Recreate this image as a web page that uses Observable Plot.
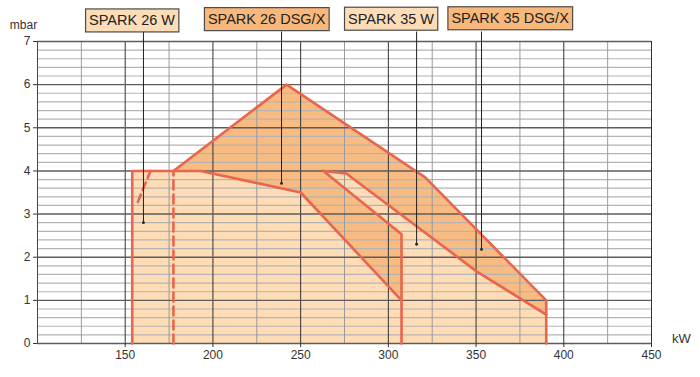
<!DOCTYPE html>
<html><head><meta charset="utf-8">
<script src="https://cdn.jsdelivr.net/npm/d3@7"></script>
<script src="https://cdn.jsdelivr.net/npm/@observablehq/plot@0.6"></script>
<style>body{margin:0;background:#fff;font-family:"Liberation Sans",Arial,sans-serif}</style>
</head><body><div id="chart"></div>
<script>
// ---- tick / grid data ----
const xMajor = [150, 200, 250, 300, 350, 400, 450];
const xMinor = [125, 175, 225, 275, 325, 375, 425];
const yMajor = [0, 1, 2, 3, 4, 5, 6, 7];
const yMinor = [0.2,0.4,0.6,0.8,1.2,1.4,1.6,1.8,2.2,2.4,2.6,2.8,3.2,3.4,3.6,3.8,4.2,4.4,4.6,4.8,5.2,5.4,5.6,5.8,6.2,6.4,6.6,6.8];

// ---- model labels ----
const models   = ["SPARK 26 W", "SPARK 26 DSG/X", "SPARK 35 W", "SPARK 35 DSG/X"];
const labelX   = [153.9, 230.6, 301.5, 369.4];
const labelY   = [7.48, 7.51, 7.52, 7.53];
const leaderX  = [160.4, 239.1, 316.1, 353.1];
const leaderY  = [2.8, 3.71, 2.3, 2.18];
const boxDark  = [false, true, false, true];

// ---- working fields (kW, mbar) ----
const area35DSG = [[177.5,0],[177.5,4],[242,6],[321,3.85],[390,1],[390,0]];
const area35W   = [[177.5,0],[177.5,4],[263,4],[276,3.94],[350.7,1.66],[390,0.67],[390,0]];
const area26DSG = [[154,0],[154,4],[263,4],[307.5,2.53],[307.5,0]];
const area26W   = [[154,0],[154,4],[193,4],[250,3.5],[307.5,1],[307.5,0]];

const edge26DSG  = [[263,4],[307.5,2.53],[307.5,1]];
const edge35W    = [[263,4],[276,3.94],[350.7,1.66],[390,0.67]];
const edge35Left = [[177.5,0],[177.5,4]];
const edge35DSG  = [[177.5,4],[242,6],[321,3.85],[390,1],[390,0]];
const edgeDash   = [[157.2,3.28],[164.4,4]];

const LIGHT = "#fddcb6", DARK = "#f8bb82", RED = "#e9654c";

const fillArea = (pts, fill) => Plot.line(pts, {x: d => d[0], y: d => d[1], fill, stroke: "none", curve: "linear-closed"});
const edge = (pts, extra = {}) => Plot.line(pts, {x: d => d[0], y: d => d[1], stroke: RED, strokeWidth: 2.6, strokeLinejoin: "round", ...extra});

const chart = Plot.plot({
  width: 700, height: 377,
  marginLeft: 37, marginRight: 49, marginTop: 41, marginBottom: 34,
  style: {fontFamily: "'Liberation Sans', Arial, sans-serif", fontSize: "12px", color: "#333", background: "#fff"},
  x: {domain: [100, 450], label: null},
  y: {domain: [0, 7], label: null},
  marks: [
    fillArea(area35DSG, DARK),
    fillArea(area35W, LIGHT),
    fillArea(area26DSG, DARK),
    fillArea(area26W, LIGHT),
    Plot.ruleY(yMinor, {stroke: "#b4b4b4", strokeWidth: 1.2}),
    Plot.ruleX(xMinor, {stroke: "#9a9a9a", strokeWidth: 1}),
    Plot.ruleX(xMajor, {stroke: "#333", strokeWidth: 1}),
    Plot.ruleY(yMajor, {stroke: "#5c5c5c", strokeWidth: 1.4}),
    Plot.ruleX([100], {stroke: "#444", strokeWidth: 1}),
    edge(area26W),
    edge(edge26DSG),
    edge(edge35W),
    edge(edge35DSG),
    edge(edge35Left, {strokeDasharray: "9,5"}),
    edge(edgeDash, {strokeDasharray: "8,5"}),
    Plot.ruleX(models.map((m, i) => i), {x: i => leaderX[i], y1: 7.22, y2: i => leaderY[i], stroke: "#222", strokeWidth: 1}),
    Plot.dot(models.map((m, i) => i), {x: i => leaderX[i], y: i => leaderY[i], r: 1.4, fill: "#222", stroke: "none"}),
    Plot.text(models.map((m, i) => i), {x: i => labelX[i], y: i => labelY[i], text: i => models[i], fontSize: 14.5, fill: "#222", textAnchor: "middle"}),
    Plot.text(["mbar"], {frameAnchor: "top-left", dx: -14, dy: -21, fontSize: 12, fill: "#333", textAnchor: "middle"}),
    Plot.text(["kW"], {frameAnchor: "bottom-right", dx: 30, dy: -1, fontSize: 13, fill: "#333", textAnchor: "middle"}),
    Plot.axisX({ticks: xMajor, tickSize: 4, tickPadding: 3, fontSize: 12, tickFormat: d => String(d)}),
    Plot.axisY({ticks: yMajor, tickSize: 4, tickPadding: 3, fontSize: 12, tickFormat: d => String(d)})
  ]
});
document.getElementById("chart").appendChild(chart);

// boxes behind model labels
d3.select(chart).selectAll("text").each(function () {
  const t = this.textContent;
  const idx = models.indexOf(t);
  if (idx < 0) return;
  const bb = this.getBBox();
  const padX = 3.5, padY = 3.5;
  const r = document.createElementNS("http://www.w3.org/2000/svg", "rect");
  r.setAttribute("x", bb.x - padX);
  r.setAttribute("y", bb.y - padY);
  r.setAttribute("width", bb.width + 2 * padX);
  r.setAttribute("height", bb.height + 2 * padY);
  r.setAttribute("fill", boxDark[idx] ? "#f8b87b" : "#fddcb8");
  r.setAttribute("stroke", "#4a4a4a");
  r.setAttribute("stroke-width", "1.2");
  const tr = this.getAttribute("transform");
  if (tr) r.setAttribute("transform", tr);
  this.parentNode.insertBefore(r, this);
});
</script>
</body></html>
